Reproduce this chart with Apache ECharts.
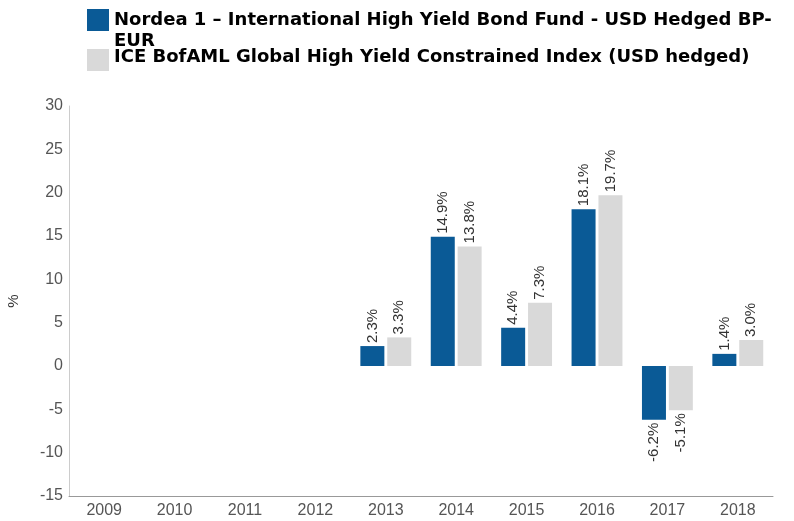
<!DOCTYPE html>
<html><head><meta charset="utf-8">
<script src="https://cdn.jsdelivr.net/npm/echarts@6/dist/echarts.min.js"></script>
<style>html,body{margin:0;padding:0;background:#fff}#c{width:794px;height:521px}</style>
</head><body><div id="c"></div>
<script>
const categories = ['2009','2010','2011','2012','2013','2014','2015','2016','2017','2018'];
const fundName = 'Nordea 1 – International High Yield Bond Fund - USD Hedged BP-EUR';
const indexName = 'ICE BofAML Global High Yield Constrained Index (USD hedged)';
const fundValues = [null, null, null, null, 2.3, 14.9, 4.4, 18.1, -6.2, 1.4];
const indexValues = [null, null, null, null, 3.3, 13.8, 7.3, 19.7, -5.1, 3.0];
const yTicks = { min: -15, max: 30, interval: 5 };

const chart = echarts.init(document.getElementById('c'));
const baseFont = 'Arial, "Liberation Sans", sans-serif';
const labelCfg = {
  show: true, rotate: 90, distance: 3,
  fontFamily: baseFont, fontSize: 15, color: '#333',
  formatter: p => p.value.toFixed(1) + '%'
};
function mk(vals){
  return vals.map(v => v == null ? null : {
    value: v,
    label: v >= 0 ? { position: 'top', align: 'left', verticalAlign: 'middle' }
                  : { position: 'bottom', align: 'right', verticalAlign: 'middle' }
  });
}
const legendText = { fontFamily: '"DejaVu Sans", sans-serif', fontWeight: 'bold', fontSize: 18, color: '#000' };
chart.setOption({
  animation: false,
  legend: [
    { data: [fundName], left: 87, top: 9, padding: 0, itemWidth: 22, itemHeight: 43, itemGap: 0,
      icon: 'path://M0,0H22V22H0Z M0,43', selectedMode: false,
      formatter: n => n.replace('BP-EUR', 'BP-\nEUR'),
      textStyle: Object.assign({ lineHeight: 21 }, legendText) },
    { data: [indexName], left: 87, top: 43, padding: 0, itemWidth: 22, itemHeight: 28,
      icon: 'path://M0,6H22V28H0Z M0,0', selectedMode: false,
      textStyle: legendText }
  ],
  grid: { left: 69, right: 21, top: 106, bottom: 25, containLabel: false, outerBoundsMode: 'none' },
  xAxis: {
    type: 'category', data: categories,
    axisLine: { onZero: false, lineStyle: { color: '#999' } },
    axisTick: { show: false },
    axisLabel: { color: '#555', fontSize: 16, fontFamily: baseFont, margin: 7 }
  },
  yAxis: {
    type: 'value', min: yTicks.min, max: yTicks.max, interval: yTicks.interval,
    name: '%', nameLocation: 'middle', nameGap: 48, nameRotate: 90,
    nameTextStyle: { color: '#333', fontSize: 15, fontFamily: baseFont },
    axisLine: { show: true, lineStyle: { color: '#ccc' } },
    axisTick: { show: false },
    splitLine: { show: false },
    axisLabel: { color: '#555', fontSize: 16, fontFamily: baseFont, margin: 6 }
  },
  series: [
    { name: fundName, type: 'bar', data: mk(fundValues), barWidth: 24, barGap: '12%',
      itemStyle: { color: '#0a5a96' }, label: labelCfg },
    { name: indexName, type: 'bar', data: mk(indexValues), barWidth: 24, barGap: '12%',
      itemStyle: { color: '#d9d9d9' }, label: labelCfg }
  ]
});
</script></body></html>
